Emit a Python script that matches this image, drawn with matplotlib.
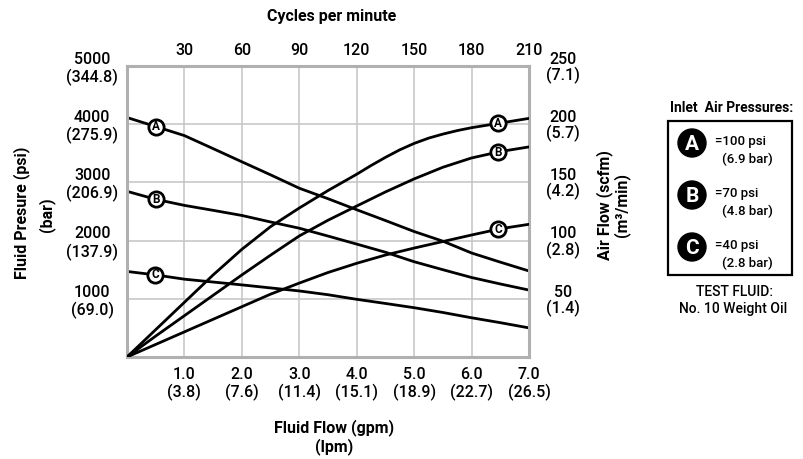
import matplotlib
matplotlib.use("Agg")
import matplotlib.pyplot as plt
import numpy as np
from matplotlib.patches import Circle, Rectangle

plt.rcParams['font.family'] = ['Roboto', 'Liberation Sans', 'DejaVu Sans']

# fluid pressure curves (psi) against fluid flow (gpm)
flow_pa = [0.0, 0.5, 1.0, 1.5, 2.0, 2.5, 3.0, 3.5, 4.0, 4.5, 5.0, 5.5, 6.0, 6.5, 7.0]
psi_a = [4115, 3960, 3804, 3580, 3354, 3130, 2900, 2720, 2530, 2345, 2156, 1990, 1787, 1630, 1478]
flow_pb = [0.0, 0.5, 1.0, 1.5, 2.0, 2.5, 3.0, 3.5, 4.0, 4.5, 5.0, 5.5, 6.0, 6.5, 7.0]
psi_b = [2847, 2709, 2605, 2520, 2432, 2320, 2213, 2078, 1940, 1800, 1637, 1500, 1366, 1255, 1150]
flow_pc = [0.0, 0.5, 1.0, 1.5, 2.0, 2.5, 3.0, 3.5, 4.0, 4.5, 5.0, 5.5, 6.0, 6.5, 7.0]
psi_c = [1470, 1410, 1337, 1288, 1239, 1187, 1135, 1070, 991, 920, 847, 765, 674, 590, 500]

# air consumption curves (scfm) against fluid flow (gpm)
flow_aa = [0.0, 0.5, 1.0, 1.5, 2.0, 2.5, 3.0, 3.5, 3.75, 4.0, 4.25, 4.5, 4.75, 5.0,
           5.25, 5.5, 5.75, 6.0, 6.5, 7.0]
scfm_a = [0, 23.5, 47, 70.5, 92.5, 112, 128, 143, 150, 157, 164.5, 171.5, 178, 183.5,
          188, 191.5, 194.5, 197, 201, 205]
flow_ab = [0.0, 0.5, 1.0, 1.5, 2.0, 2.5, 3.0, 3.5, 4.0, 4.5, 5.0, 5.5, 6.0, 6.5, 7.0]
scfm_b = [0, 18, 35.5, 53, 70.5, 87.5, 104, 117.5, 129.7, 141.8, 153, 163, 171, 176.5, 180.5]
flow_ac = [0.0, 0.5, 1.0, 1.5, 2.0, 2.5, 3.0, 3.5, 4.0, 4.5, 5.0, 5.5, 6.0, 6.5, 7.0]
scfm_c = [0, 10.8, 21.6, 32.4, 43.2, 54, 63.5, 72.6, 80.5, 87.6, 93.6, 99.2, 104.8, 110.2, 114]

gpm_ticks = [1, 2, 3, 4, 5, 6, 7]
lpm_labels = ["3.8", "7.6", "11.4", "15.1", "18.9", "22.7", "26.5"]
psi_ticks = [1000, 2000, 3000, 4000, 5000]
bar_labels = ["69.0", "137.9", "206.9", "275.9", "344.8"]
scfm_ticks = [50, 100, 150, 200, 250]
m3_labels = ["1.4", "2.8", "4.2", "5.7", "7.1"]
cpm_ticks = [30, 60, 90, 120, 150, 180, 210]

legend_letters = ["A", "B", "C"]
legend_psi = ["=100 psi", "=70 psi", "=40 psi"]
legend_bar = ["(6.9 bar)", "(4.8 bar)", "(2.8 bar)"]

W, H = 804, 459
fig = plt.figure(figsize=(W / 100, H / 100), dpi=100)
ax = fig.add_axes([127 / W, 1 - 357 / H, 402 / W, 291 / H])
ax2 = ax.twinx()

ax.set_xlim(0, 7)
ax.set_ylim(0, 5000)
ax2.set_ylim(0, 250)

ax.grid(True, color="#c4c4c4", lw=1.1)
ax.set_axisbelow(True)
for s in ax.spines.values():
    s.set_color("#b0b0b0")
    s.set_linewidth(2.2)
for s in ax2.spines.values():
    s.set_visible(False)

tick_fs = 11.5
tick_w = "medium"
ax.set_xticks(gpm_ticks, labels=[f"{g:.1f}\n({l})" for g, l in zip(gpm_ticks, lpm_labels)])
ax.set_yticks(psi_ticks, labels=[f"{p}\n({b})" for p, b in zip(psi_ticks, bar_labels)])
ax2.set_yticks(scfm_ticks, labels=[f"{s}\n({m})" for s, m in zip(scfm_ticks, m3_labels)])
ax.tick_params(axis='x', length=0, pad=7, labelsize=tick_fs)
ax.tick_params(axis='y', length=0, pad=25, labelsize=tick_fs)
ax2.tick_params(axis='y', length=0, pad=24.5, labelsize=tick_fs)
plt.setp(ax.get_xticklabels(), linespacing=1.15, fontweight=tick_w)
plt.setp(ax.get_yticklabels(), ha='center', linespacing=1.15, fontweight=tick_w)
plt.setp(ax2.get_yticklabels(), ha='center', linespacing=1.0, fontweight=tick_w)

top = ax.secondary_xaxis('top', functions=(lambda g: g * 30, lambda c: c / 30))
top.set_xticks(cpm_ticks)
top.tick_params(length=0, pad=6, labelsize=tick_fs)
plt.setp(top.get_xticklabels(), fontweight=tick_w)
top.spines['top'].set_visible(False)

lw = 2.0
ax.plot(flow_pa, psi_a, color="black", lw=lw)
ax.plot(flow_pb, psi_b, color="black", lw=lw)
ax.plot(flow_pc, psi_c, color="black", lw=lw)
ax2.plot(flow_aa, scfm_a, color="black", lw=lw)
ax2.plot(flow_ab, scfm_b, color="black", lw=lw)
ax2.plot(flow_ac, scfm_c, color="black", lw=lw)


def tag(axis, x, xs, ys, letter):
    y = np.interp(x, xs, ys)
    axis.plot([x], [y], marker="o", ms=11, mfc="white", mec="black", mew=2.0, zorder=5)
    axis.text(x, y, letter, ha="center", va="center", fontsize=8.5,
              fontweight="bold", zorder=6)


tag(ax, 0.50, flow_pa, psi_a, "A")
tag(ax, 0.50, flow_pb, psi_b, "B")
tag(ax, 0.49, flow_pc, psi_c, "C")
tag(ax2, 6.46, flow_aa, scfm_a, "A")
tag(ax2, 6.46, flow_ab, scfm_b, "B")
tag(ax2, 6.46, flow_ac, scfm_c, "C")

# overlay in pixel coords for titles and the legend box
ov = fig.add_axes([0, 0, 1, 1])
ov.set_xlim(0, W)
ov.set_ylim(H, 0)
ov.axis("off")
ov.patch.set_alpha(0)

bold = dict(fontweight="bold", fontsize=11.5)
ov.text(332, 17, "Cycles per minute", ha="center", va="center", **bold)
ov.text(334, 437, "Fluid Flow (gpm)\n(lpm)", ha="center", va="center",
        linespacing=1.2, **bold)
ov.text(22, 213, "Fluid Presure (psi)", ha="center", va="center", rotation=90, **bold)
ov.text(47, 215, "(bar)", ha="center", va="center", rotation=90, **bold)
ov.text(613, 205, "Air Flow (scfm)\n(m³/min)", ha="center", va="center",
        rotation=90, linespacing=0.95, **bold)

ov.text(732, 108, "Inlet  Air Pressures:", ha="center", va="center",
        fontweight="bold", fontsize=10)
ov.add_patch(Rectangle((668, 121), 124, 154, fill=False, ec="black", lw=1.6))
for i, (let, p, b) in enumerate(zip(legend_letters, legend_psi, legend_bar)):
    cy = 143 + i * 52
    ov.add_patch(Circle((692, cy), 14, color="black"))
    ov.text(692, cy + 1, let, ha="center", va="center", color="white",
            fontweight="bold", fontsize=15)
    ov.text(715, cy - 1, p, ha="left", va="center", fontsize=9.5, fontweight=tick_w)
    ov.text(722, cy + 16, b, ha="left", va="center", fontsize=9.5, fontweight=tick_w)
ov.text(735, 292, "TEST FLUID:", ha="center", va="center", fontsize=10, fontweight=tick_w)
ov.text(733, 309, "No. 10 Weight Oil", ha="center", va="center", fontsize=10,
        fontweight=tick_w)

fig.savefig("out.png", dpi=100)
